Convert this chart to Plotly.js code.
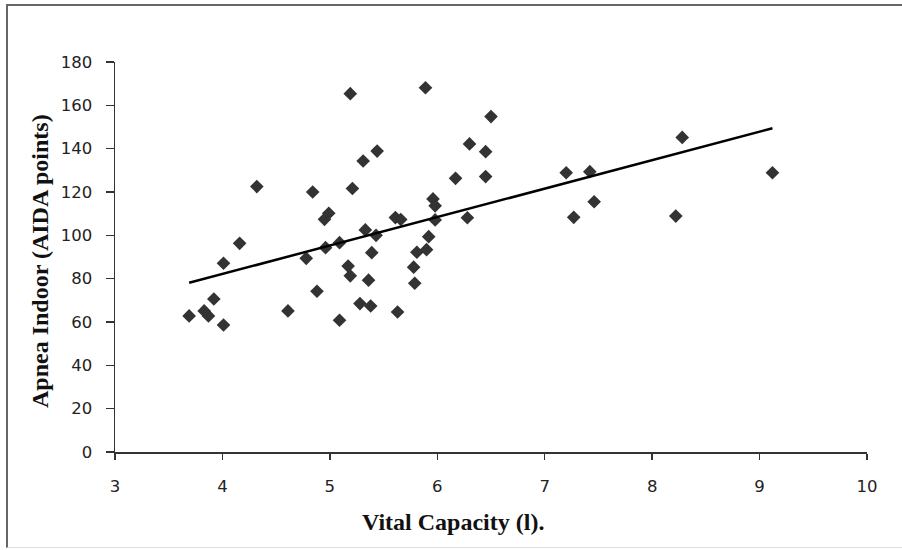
<!DOCTYPE html>
<html>
<head>
<meta charset="utf-8">
<script src="https://cdn.plot.ly/plotly-3.0.1.min.js"></script>
<style>
  html, body { margin: 0; padding: 0; background: #fff; }
  #wrap { position: relative; width: 902px; height: 550px; }
  #chart { position: absolute; left: 0; top: 0; width: 902px; height: 550px; }
  #frame { position: absolute; left: 6px; top: 4px; width: 900px; height: 541px;
           border-left: 2px solid #666; border-top: 2px solid #666; border-bottom: 1px solid #ddd;
           pointer-events: none; }
</style>
</head>
<body>
<div id="wrap"><div id="chart"></div><div id="frame"></div></div>
<script>
const vitalCapacity = [
  3.69, 3.83, 3.87, 3.92, 4.01, 4.01, 4.16, 4.32, 4.61, 4.78,
  4.84, 4.88, 4.95, 4.96, 4.99, 5.09, 5.09, 5.17, 5.19, 5.19,
  5.21, 5.28, 5.31, 5.33, 5.36, 5.38, 5.39, 5.43, 5.44, 5.61,
  5.66, 5.63, 5.78, 5.79, 5.81, 5.89, 5.90, 5.92, 5.96, 5.98,
  5.98, 6.17, 6.28, 6.30, 6.45, 6.45, 6.50, 7.20, 7.27, 7.42,
  7.46, 8.22, 8.28, 9.12
];
const apneaIndoor = [
  62.8, 65.1, 62.8, 70.6, 58.6, 87.1, 96.3, 122.5, 65.1, 89.4,
  120.0, 74.2, 107.4, 94.3, 110.2, 96.6, 60.8, 85.8, 81.3, 165.4,
  121.6, 68.5, 134.3, 102.5, 79.3, 67.4, 92.0, 100.0, 138.9, 108.2,
  107.3, 64.6, 85.3, 77.9, 92.2, 168.1, 93.4, 99.4, 116.8, 113.6,
  107.1, 126.3, 108.1, 142.2, 138.6, 127.1, 154.8, 128.9, 108.3, 129.4,
  115.5, 108.9, 145.2, 128.9
];
const trendX = [3.69, 9.12];
const trendY = [78.1, 149.4];
const xTicks = [3, 4, 5, 6, 7, 8, 9, 10];
const yTicks = [0, 20, 40, 60, 80, 100, 120, 140, 160, 180];
const xTitle = 'Vital Capacity (l).';
const yTitle = 'Apnea Indoor (AIDA points)';

const data = [
  {
    x: vitalCapacity, y: apneaIndoor, type: 'scatter', mode: 'markers',
    marker: { symbol: 'diamond', size: 10.5, color: '#333333', line: { width: 0 } },
    showlegend: false, hoverinfo: 'x+y'
  },
  {
    x: trendX, y: trendY, type: 'scatter', mode: 'lines',
    line: { color: '#000000', width: 2.5 },
    showlegend: false, hoverinfo: 'skip'
  }
];

const tickFont = { family: 'DejaVu Sans, sans-serif', size: 16.5, color: '#222' };
const titleFont = { family: 'Liberation Serif, serif', size: 24, color: '#111', weight: 'bold' };

const layout = {
  width: 902, height: 550,
  margin: { l: 115, r: 35, t: 62, b: 98, pad: 0 },
  paper_bgcolor: '#ffffff', plot_bgcolor: '#ffffff',
  font: tickFont,
  xaxis: {
    range: [3, 10], tickvals: xTicks, ticktext: xTicks.map(String),
    showgrid: false, zeroline: false, showline: true, linecolor: '#333', linewidth: 1.5,
    ticks: 'outside', ticklen: 6, tickwidth: 1.5, tickcolor: '#333',
    tickfont: tickFont, ticklabelstandoff: 13,
    title: { text: '' }
  },
  yaxis: {
    range: [0, 180], tickvals: yTicks, ticktext: yTicks.map(String),
    showgrid: false, zeroline: false, showline: true, linecolor: '#333', linewidth: 1.5,
    ticks: 'outside', ticklen: 8, tickwidth: 1.5, tickcolor: '#333',
    tickfont: tickFont, ticklabelstandoff: 10,
    title: { text: '' }
  },
  annotations: [
    {
      text: xTitle, xref: 'paper', yref: 'paper',
      x: (453 - 115) / 752, y: -(522 - 452) / 390, xanchor: 'center', yanchor: 'middle',
      showarrow: false, font: titleFont
    },
    {
      text: yTitle, xref: 'paper', yref: 'paper', textangle: -90,
      x: -(115 - 40) / 752, y: (452 - 261) / 390, xanchor: 'center', yanchor: 'middle',
      showarrow: false, font: titleFont
    }
  ]
};

Plotly.newPlot('chart', data, layout, { displayModeBar: false, staticPlot: true });
</script>
</body>
</html>
